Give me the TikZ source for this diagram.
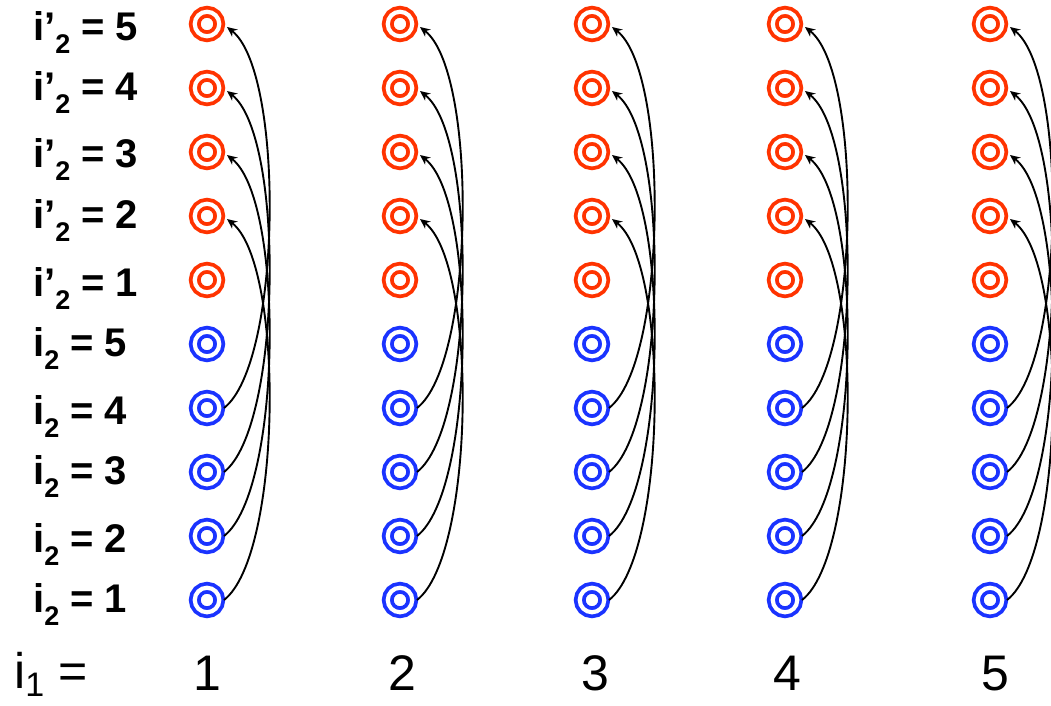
\documentclass[tikz,border=0pt]{standalone}
\usepackage{fontspec}
\setmainfont{Liberation Sans}
\usetikzlibrary{calc,arrows.meta}
\definecolor{ringred}{RGB}{255,51,0}
\definecolor{ringblue}{RGB}{26,51,255}
% lowered subscript: optional drop, size, text
\newcommand{\lowsub}[3][12pt]{\raisebox{-#1}{\fontsize{#2}{#2}\selectfont #3}}
\begin{document}
\begin{tikzpicture}[x=1pt,y=-1pt,
  ring/.style={circle,double=white,line width=3.8pt,double distance=4.2pt,
    minimum size=24.5pt,inner sep=0pt,outer sep=4.75pt},
  rring/.style={ring,draw=ringred},
  bring/.style={ring,draw=ringblue},
  link/.style={draw=black,line width=1.9pt,-{Stealth[length=10pt,width=9pt]}},
  rowlabel/.style={anchor=base west,inner sep=0pt,
    font=\fontsize{40}{40}\selectfont\bfseries},
  collabel/.style={anchor=base,inner sep=0pt,font=\fontsize{50}{50}\selectfont}]
\useasboundingbox (0,0) rectangle (1051,705);

% row labels
\foreach \k/\yb in {5/40,4/100,3/167,2/228,1/296}
  \node[rowlabel] (lp\k) at (33,\yb) {i’\lowsub[13pt]{27}{2} = \k};
\foreach \k/\yb in {5/356,4/424,3/484,2/552,1/612}
  \node[rowlabel] (lb\k) at (33,\yb) {i\lowsub[13pt]{27}{2} = \k};

% column labels
\node[anchor=base west,inner sep=0pt,font=\fontsize{50}{50}\selectfont]
  (li) at (14,688) {i\lowsub[8pt]{34}{1} =};
\foreach \c/\x in {1/207,2/402,3/595,4/787,5/995}
  \node[collabel] (n\c) at (\x,690) {\c};

% rings and links, one column per value of i1
\foreach \c/\x in {1/207,2/400,3/592,4/785,5/990}{
  \foreach \k/\yr/\yb in {1/280/600,2/216/536,3/152/472,4/88/408,5/24/344}{
    \node[rring] (r-\c-\k) at (\x,\yr) {};
    \node[bring] (b-\c-\k) at (\x,\yb) {};
  }
  \foreach \k in {1,...,4}{
    \pgfmathtruncatemacro{\kk}{\k+1}
    \draw[link] (b-\c-\k.east) .. controls +(58,-45) and +(58,45)
      .. ($(r-\c-\kk.east)+(3,3)$);
  }
}
\end{tikzpicture}
\end{document}
